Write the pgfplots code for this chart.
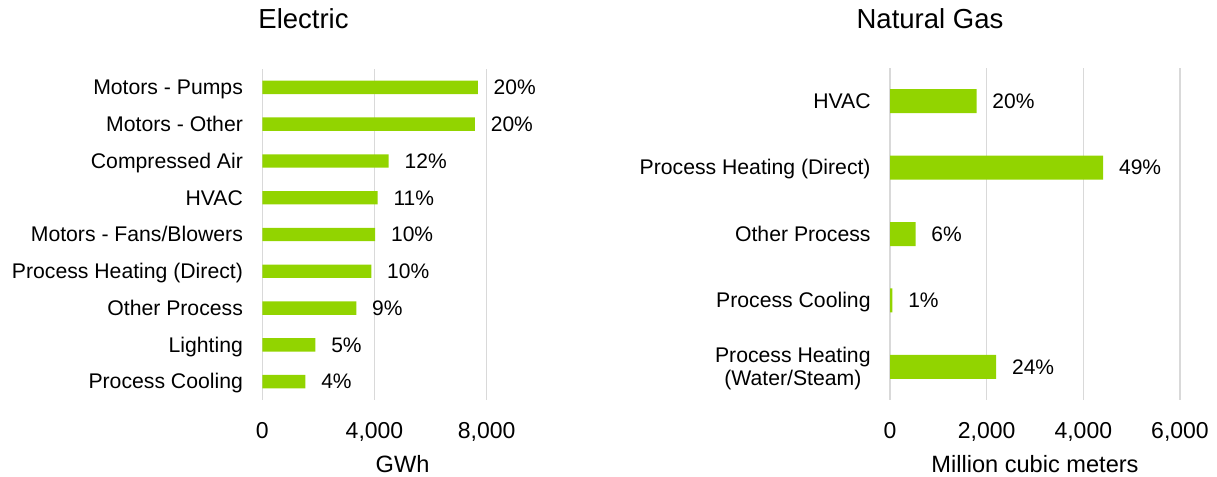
\documentclass[border=0pt]{standalone}
\usepackage{fontspec}
\setmainfont{Liberation Sans}
\usepackage{pgfplots}
\usepackage{pgfplotstable}
\pgfplotsset{compat=1.18}
\definecolor{barg}{RGB}{146,212,0}
\definecolor{gridc}{RGB}{217,217,217}

\pgfplotstableread{
i v p
0 7683 20
1 7581 20
2 4508 12
3 4114 11
4 4025 10
5 3886 10
6 3352 9
7 1892 5
8 1537 4
}\electric

\pgfplotstableread{
i v p
0 1791 20
1 4412 49
2 529 6
3 50 1
4 2198 24
}\gas

\pgfplotsset{mybar/.style={
 xbar, scale only axis, y dir=reverse, axis line style={draw=none}, major tick length=0pt,
 xmajorgrids, major grid style={gridc, line width=0.75pt}, ymajorgrids=false,
 scaled x ticks=false, /pgf/number format/assume math mode=true, /pgf/number format/1000 sep={,},
 xmin=0, clip=false, ytick=data,
 tick label style={font=\fontsize{11.5}{13}\selectfont},
 yticklabel style={font=\fontsize{10.6}{11.8}\selectfont, anchor=base east, inner sep=0pt, xshift=-9.5pt, yshift=-3.67pt},
 xticklabel style={anchor=base, inner sep=0pt, yshift=-19.25pt},
 xlabel style={font=\fontsize{11.8}{13}\selectfont, at={(axis description cs:0.5,0)}, anchor=base, inner sep=0pt, yshift=-36pt},
 point meta=explicit symbolic,
 nodes near coords={\pgfplotspointmeta\%},
 every node near coord/.append style={font=\fontsize{10.5}{12}\selectfont, anchor=base west, inner sep=0pt, xshift=7.75pt, yshift=-3.64pt, text=black},
}}

\begin{document}
\begin{tikzpicture}
\path[use as bounding box] (0,0) rectangle (608.5pt,238.5pt);
\node[anchor=base, font=\fontsize{13.75}{16}\selectfont] at (151.75pt,224pt) {Electric};
\node[anchor=base, font=\fontsize{13.75}{16}\selectfont] at (465pt,224pt) {Natural Gas};

\begin{axis}[mybar,
  at={(131.15pt,38.5pt)}, anchor=south west,
  width=140.25pt, height=165.5pt,
  xmax=10000, xtick={0,4000,8000},
  ymin=-0.5, ymax=8.5, bar width=6.7pt,
  yticklabels={Motors - Pumps, Motors - Other, Compressed Air, HVAC, Motors - Fans/Blowers, Process Heating (Direct), Other Process, Lighting, Process Cooling},
  xlabel={GWh}]
\addplot[fill=barg, draw=none] table[x=v, y=i, meta=p] {\electric};
\end{axis}

\begin{axis}[mybar,
  at={(445pt,38.5pt)}, anchor=south west,
  width=145pt, height=166pt,
  xmax=6000, xtick={0,2000,4000,6000},
  ymin=-0.5, ymax=4.5, bar width=12pt,
  yticklabels={HVAC, Process Heating (Direct), Other Process, Process Cooling, {\raisebox{5.9pt}{\begin{tabular}[t]{@{}c@{}}Process Heating\\(Water/Steam)\end{tabular}}}},
  xlabel={Million cubic meters}]
\addplot[fill=barg, draw=none] table[x=v, y=i, meta=p] {\gas};
\end{axis}
\end{tikzpicture}
\end{document}
